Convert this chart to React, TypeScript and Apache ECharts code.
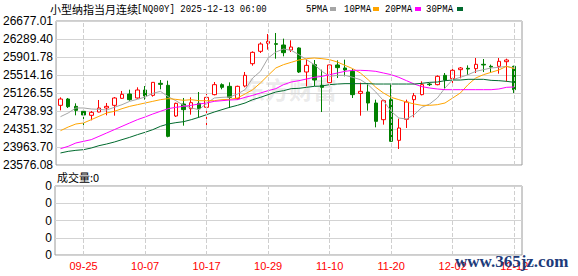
import React, { useEffect, useRef } from 'react';
import * as echarts from 'echarts';

const DATES = [
  '09-22', '09-23', '09-24', '09-25', '09-26', '09-29', '09-30',
  '10-01', '10-02', '10-03', '10-06', '10-07', '10-08', '10-09', '10-10', '10-13', '10-14', '10-15', '10-16', '10-17',
  '10-20', '10-21', '10-22', '10-23', '10-24', '10-27', '10-28', '10-29', '10-30', '10-31',
  '11-03', '11-04', '11-05', '11-06', '11-07', '11-10', '11-11', '11-12', '11-13', '11-14',
  '11-17', '11-18', '11-19', '11-20', '11-21', '11-24', '11-25', '11-26', '11-27', '11-28',
  '12-01', '12-02', '12-03', '12-04', '12-05', '12-08', '12-09', '12-10', '12-11', '12-12',
];

// [open, close, low, high]
const OHLC = [
  [24861, 24997, 24753, 25033], [24997, 24832, 24803, 25019], [24839, 24753, 24646, 24904], [24732, 24653, 24423, 24753],
  [24646, 24710, 24538, 24739], [24717, 24803, 24710, 24976], [24803, 24839, 24646, 24911], [24861, 25019, 24638, 25040],
  [25012, 25098, 25005, 25170], [25105, 24983, 24961, 25198], [25019, 25191, 25005, 25249], [25191, 25062, 24983, 25277],
  [25076, 25356, 25048, 25363], [25335, 25313, 25206, 25406], [25292, 24193, 24172, 25392], [24631, 24904, 24610, 24918],
  [24890, 24768, 24423, 25019], [24789, 24918, 24660, 25033], [24904, 24789, 24603, 25148], [24818, 25033, 24402, 25105],
  [25091, 25306, 25076, 25363], [25306, 25249, 25206, 25335], [25270, 25033, 24803, 25356], [25005, 25270, 24983, 25285],
  [25277, 25507, 25249, 25579], [25758, 26002, 25715, 26024], [26024, 26182, 25988, 26218], [26196, 26239, 26060, 26397],
  [26189, 26175, 25866, 26419], [26160, 25995, 25916, 26297], [26052, 26117, 26009, 26261], [26096, 25579, 25557, 26110],
  [25579, 25722, 25270, 25852], [25737, 25406, 25277, 25837], [25292, 25249, 24717, 25629], [25349, 25730, 25285, 25737],
  [25730, 25672, 25450, 25830], [25665, 25622, 25485, 25844], [25593, 25091, 25019, 25643], [25119, 25162, 24638, 25349],
  [25148, 24911, 24746, 25335], [24911, 24516, 24387, 24983], [24552, 24961, 24445, 24983], [24983, 24086, 24078, 25306],
  [24107, 24373, 23921, 24574], [24560, 24933, 24373, 24983], [24983, 25069, 24603, 25127], [25091, 25306, 25076, 25378],
  [25320, 25306, 25277, 25342], [25306, 25485, 25292, 25507], [25507, 25406, 25191, 25557], [25435, 25615, 25342, 25665],
  [25629, 25665, 25442, 25686], [25658, 25643, 25514, 25722], [25651, 25744, 25557, 25880], [25744, 25730, 25579, 25859],
  [25701, 25686, 25557, 25737], [25701, 25809, 25543, 25880], [25801, 25837, 25371, 25866], [25701, 25198, 25127, 25715],
];

const MA5 = [
  24617, 24696, 24804, 24804, 24782, 24775, 24760, 24818, 24875, 24947,
  24990, 25040, 25119, 25162, 25048, 24961, 24861, 24804, 24768, 24904,
  25019, 25033, 25040, 25105, 25198, 25450, 25593, 25880, 26009, 26074,
  26045, 25952, 25844, 25737, 25593, 25485, 25507, 25507, 25464, 25414,
  25306, 25148, 24961, 24732, 24588, 24567, 24660, 24818, 24890, 25019,
  25234, 25414, 25464, 25521, 25593, 25629, 25665, 25679, 25701, 25665,
];
const MA10 = [
  24315, 24394, 24459, 24481, 24552, 24624, 24696, 24732, 24789, 24839,
  24875, 24911, 24947, 24983, 25005, 24990, 24969, 24983, 24961, 24961,
  24961, 24983, 24990, 25019, 25105, 25198, 25342, 25507, 25665, 25737,
  25787, 25837, 25866, 25880, 25866, 25844, 25794, 25722, 25651, 25557,
  25414, 25249, 25127, 25033, 24983, 24933, 24890, 24861, 24861, 24875,
  24911, 25019, 25127, 25306, 25450, 25521, 25572, 25622, 25701, 25651,
];
const MA20 = [
  23928, 23978, 24050, 24086, 24122, 24193, 24265, 24337, 24409, 24481,
  24552, 24610, 24674, 24732, 24789, 24818, 24839, 24861, 24890, 24911,
  24947, 24961, 24976, 24983, 25033, 25076, 25127, 25177, 25220, 25306,
  25363, 25392, 25428, 25464, 25485, 25521, 25557, 25593, 25615, 25615,
  25608, 25593, 25557, 25521, 25464, 25392, 25320, 25263, 25234, 25213,
  25198, 25198, 25198, 25198, 25198, 25198, 25198, 25213, 25249, 25256,
];
const MA30 = [
  23835, 23870, 23892, 23906, 23942, 23992, 24028, 24071, 24122, 24172,
  24229, 24280, 24337, 24409, 24459, 24488, 24509, 24552, 24603, 24660,
  24717, 24768, 24818, 24861, 24911, 24983, 25033, 25091, 25148, 25177,
  25220, 25227, 25249, 25270, 25277, 25306, 25320, 25328, 25328, 25328,
  25328, 25320, 25320, 25320, 25320, 25320, 25320, 25335, 25356, 25363,
  25392, 25406, 25406, 25421, 25421, 25421, 25399, 25392, 25378, 25356,
];

const VOLUME = [
  0, 0, 0, 0, 0, 0, 0, 0, 0, 0, 0, 0, 0, 0, 0, 0, 0, 0, 0, 0,
  0, 0, 0, 0, 0, 0, 0, 0, 0, 0, 0, 0, 0, 0, 0, 0, 0, 0, 0, 0,
  0, 0, 0, 0, 0, 0, 0, 0, 0, 0, 0, 0, 0, 0, 0, 0, 0, 0, 0, 0,
];

const Y_LABELS = ['23576.08', '23963.70', '24351.32', '24738.93', '25126.55', '25514.16', '25901.78', '26289.40', '26677.01'];
const VOL_LABELS = ['0', '0', '0', '0', '0'];
const TICK_DATES = ['09-25', '10-07', '10-17', '10-29', '11-10', '11-20', '12-02', '12-12'];

const TITLE_CN = '小型纳指当月连续';
const TITLE_CODE = '[NQ00Y] 2025-12-13 06:00';
const LEGEND = [
  { name: '5PMA', color: '#a6a6a6' },
  { name: '10PMA', color: '#ffa500' },
  { name: '20PMA', color: '#ff00ff' },
  { name: '30PMA', color: '#006a2e' },
];

export default function App() {
  const ref = useRef<HTMLDivElement>(null);
  useEffect(() => {
    const chart = echarts.init(ref.current!, null, { renderer: 'svg' });
    const labelIdx = new Set(TICK_DATES.map((d) => DATES.indexOf(d)));
    const yMin = parseFloat(Y_LABELS[0]);
    const yMax = parseFloat(Y_LABELS[Y_LABELS.length - 1]);
    const vLines = {
      silent: true,
      symbol: ['none', 'none'],
      label: { show: false },
      lineStyle: { type: 'dashed', color: '#cfcfcf', width: 1 },
      data: TICK_DATES.map((d) => ({ xAxis: d })),
    };
    const legendX = [306, 344, 385, 426];
    const legendSq = [330, 373, 415, 457];
    const maData = [MA5, MA10, MA20, MA30];

    chart.setOption({
      animation: false,
      backgroundColor: '#ffffff',
      grid: [
        { left: 55, top: 21, width: 467, height: 144, show: true, borderColor: '#9a9a9a', borderWidth: 1 },
        { left: 56.65, top: 21, width: 461.4, height: 144 },
        { left: 55, top: 186, width: 467, height: 69, show: true, borderColor: '#9a9a9a', borderWidth: 1 },
        { left: 56.65, top: 186, width: 461.4, height: 69 },
      ],
      xAxis: [
        { gridIndex: 0, type: 'value', min: 0, max: 1, show: false },
        { gridIndex: 1, type: 'category', data: DATES, show: false, boundaryGap: true },
        { gridIndex: 2, type: 'value', min: 0, max: 1, show: false },
        {
          gridIndex: 3, type: 'category', data: DATES, boundaryGap: true,
          axisLine: { show: false }, axisTick: { show: false }, splitLine: { show: false },
          axisLabel: {
            interval: (i: number) => labelIdx.has(i),
            color: '#ff0000', fontSize: 11, fontFamily: '"Liberation Sans", Arial', margin: 5,
          },
        },
      ],
      yAxis: [
        {
          gridIndex: 0, type: 'value', min: 0, max: 8, interval: 1,
          axisLine: { show: false }, axisTick: { show: false },
          splitLine: { lineStyle: { color: '#d3d3d3', width: 1 } },
          axisLabel: {
            formatter: (v: number) => Y_LABELS[Math.round(v)],
            color: '#000', fontSize: 12, fontFamily: '"Liberation Sans", Arial', margin: 3,
          },
        },
        { gridIndex: 1, type: 'value', min: yMin, max: yMax, show: false },
        {
          gridIndex: 2, type: 'value', min: 0, max: 4, interval: 1,
          axisLine: { show: false }, axisTick: { show: false },
          splitLine: { lineStyle: { color: '#d3d3d3', width: 1 } },
          axisLabel: {
            formatter: (v: number) => VOL_LABELS[Math.round(v)],
            color: '#000', fontSize: 12, fontFamily: '"Liberation Sans", Arial', margin: 3,
          },
        },
        { gridIndex: 3, type: 'value', min: 0, max: 1, show: false },
      ],
      series: [
        { type: 'line', xAxisIndex: 1, yAxisIndex: 1, data: [], z: 1, markLine: vLines },
        {
          type: 'candlestick', xAxisIndex: 1, yAxisIndex: 1, data: OHLC, barWidth: 4, z: 2,
          itemStyle: { color: '#ffffff', color0: '#008000', borderColor: '#ff0000', borderColor0: '#008000', borderWidth: 1 },
        },
        ...LEGEND.map((l, k) => ({
          type: 'line', name: l.name, xAxisIndex: 1, yAxisIndex: 1, data: maData[k], z: 3,
          symbol: 'none', showSymbol: false, lineStyle: { color: l.color, width: 1 },
        })),
        { type: 'bar', xAxisIndex: 3, yAxisIndex: 3, data: VOLUME, z: 1, itemStyle: { color: '#008000' }, markLine: vLines },
      ],
      graphic: [
        {
          type: 'text', x: 241, y: 88, z: -1,
          style: { text: '东方财富', font: 'bold 24px "Noto Sans CJK SC"', fill: 'rgba(150,150,150,0.2)', verticalAlign: 'middle' },
        },
        {
          type: 'text', x: 50, y: 9,
          style: { text: TITLE_CN, font: '11px "Noto Sans CJK SC"', fill: '#000', verticalAlign: 'middle' },
        },
        {
          type: 'text', x: 137, y: 9, scaleX: 0.82,
          style: { text: TITLE_CODE, font: '11px "Liberation Mono"', fill: '#000', verticalAlign: 'middle' },
        },
        ...LEGEND.map((l, k) => ({
          type: 'text', x: legendX[k], y: 9, scaleX: 0.82,
          style: { text: l.name, font: '11px "Liberation Mono"', fill: '#000', verticalAlign: 'middle' },
        })),
        ...LEGEND.map((l, k) => ({
          type: 'rect', shape: { x: legendSq[k], y: 7, width: 6, height: 4 }, style: { fill: l.color },
        })),
        {
          type: 'text', x: 57, y: 177,
          style: { text: '成交量:0', font: '11px "Noto Sans CJK SC"', fill: '#000', verticalAlign: 'middle' },
        },
        {
          type: 'text', x: 455, y: 261, z: 100,
          style: { text: 'www.365jz.com', font: 'bold 17px "Liberation Serif"', fill: '#1d3b7a', verticalAlign: 'middle' },
        },
      ],
    });
    return () => chart.dispose();
  }, []);
  return (
    <div
      ref={ref}
      style={{ position: 'fixed', left: 0, top: 0, width: 578, height: 276, background: '#fff' }}
    />
  );
}
